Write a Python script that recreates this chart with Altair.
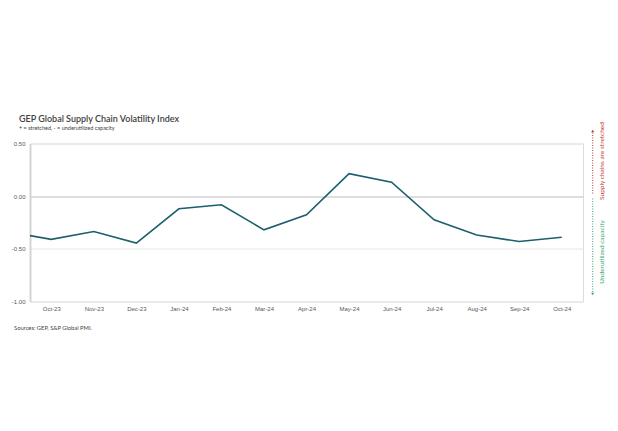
import altair as alt
import pandas as pd

months = ["Sep-23", "Oct-23", "Nov-23", "Dec-23", "Jan-24", "Feb-24", "Mar-24",
          "Apr-24", "May-24", "Jun-24", "Jul-24", "Aug-24", "Sep-24", "Oct-24"]
values = [-0.34, -0.41, -0.335, -0.445, -0.12, -0.082, -0.32,
          -0.177, 0.214, 0.132, -0.224, -0.369, -0.43, -0.39]
tick_labels = months[1:]

df = pd.DataFrame({"idx": list(range(len(months))), "month": months, "value": values})

label_arr = "[" + ",".join("'" + m + "'" for m in tick_labels) + "]"

W, H = 553, 158
LINE = "#1d5f6d"
RED = "#c0392b"
GREEN = "#3aa774"

base = alt.Chart(df)

line = base.mark_line(color=LINE, strokeWidth=1.6, clip=True).encode(
    x=alt.X("idx:Q",
            scale=alt.Scale(domain=[0.5, 13.5], nice=False, zero=False),
            axis=alt.Axis(values=list(range(1, 14)), title=None, grid=False,
                          domain=False, ticks=False, labelPadding=4,
                          labelExpr=label_arr + "[datum.value - 1]",
                          labelFontSize=6, labelColor="#595959",
                          labelFont="Liberation Sans")),
    y=alt.Y("value:Q",
            scale=alt.Scale(domain=[-1.0, 0.5], nice=False, zero=False),
            axis=alt.Axis(values=[-1.0, -0.5, 0.0, 0.5], title=None,
                          grid=True,
                          gridColor={"condition": {"test": "datum.value === 0", "value": "#bdbdbd"},
                                     "value": "#e6e6e6"},
                          gridWidth=1,
                          domain=True, domainColor="#d4d4d4", domainWidth=2,
                          ticks=False, labelPadding=5,
                          labelExpr="replace(format(datum.value, '.2f'), '\u2212', '-')",
                          labelFontSize=6, labelColor="#595959",
                          labelFont="Liberation Sans")),
)

ann = pd.DataFrame({"k": [0]})
abase = alt.Chart(ann)

red_rule = abase.mark_rule(color=RED, strokeDash=[1, 1.5], strokeWidth=1).encode(
    x=alt.value(562.7), y=alt.value(-11), y2=alt.value(51.5))
red_arrow = abase.mark_point(shape="triangle-up", filled=True, color=RED, size=10, opacity=1).encode(
    x=alt.value(562.7), y=alt.value(-12.5))
green_rule = abase.mark_rule(color=GREEN, strokeDash=[1, 1.5], strokeWidth=1).encode(
    x=alt.value(562.7), y=alt.value(55), y2=alt.value(149))
green_arrow = abase.mark_point(shape="triangle-down", filled=True, color=GREEN, size=10, opacity=1).encode(
    x=alt.value(562.7), y=alt.value(150.5))
red_text = abase.mark_text(text="Supply chains are stretched", angle=270, color=RED,
                           fontSize=6.5, font="Lato", align="center", baseline="middle").encode(
    x=alt.value(571.5), y=alt.value(17.5))
green_text = abase.mark_text(text="Underutilized capacity", angle=270, color=GREEN,
                             fontSize=6.5, font="Lato", align="center", baseline="middle").encode(
    x=alt.value(571.5), y=alt.value(108.5))
source = abase.mark_text(text="Sources: GEP, S&P Global PMI.", color="#404040",
                         fontSize=5.8, font="Lato", align="left", baseline="middle").encode(
    x=alt.value(-16), y=alt.value(184.5))

chart = alt.layer(line, red_rule, red_arrow, green_rule, green_arrow,
                  red_text, green_text, source).properties(
    width=W, height=H,
    title=alt.TitleParams(
        text="GEP Global Supply Chain Volatility Index",
        subtitle="+ = stretched, - = underutilized capacity",
        anchor="start", frame="group", dx=-11, dy=22, offset=12,
        font="Lato", fontSize=9, fontWeight=600, color="#404040",
        subtitleFont="Lato", subtitleFontSize=5.5, subtitleColor="#404040",
        subtitlePadding=2),
    autosize=alt.AutoSizeParams(type="none"),
    padding={"left": 22, "top": 135.5, "right": 27, "bottom": 121},
).configure_view(stroke=None).configure(background="white")

chart.save("out.html", embed_options={"renderer": "svg", "actions": False})
